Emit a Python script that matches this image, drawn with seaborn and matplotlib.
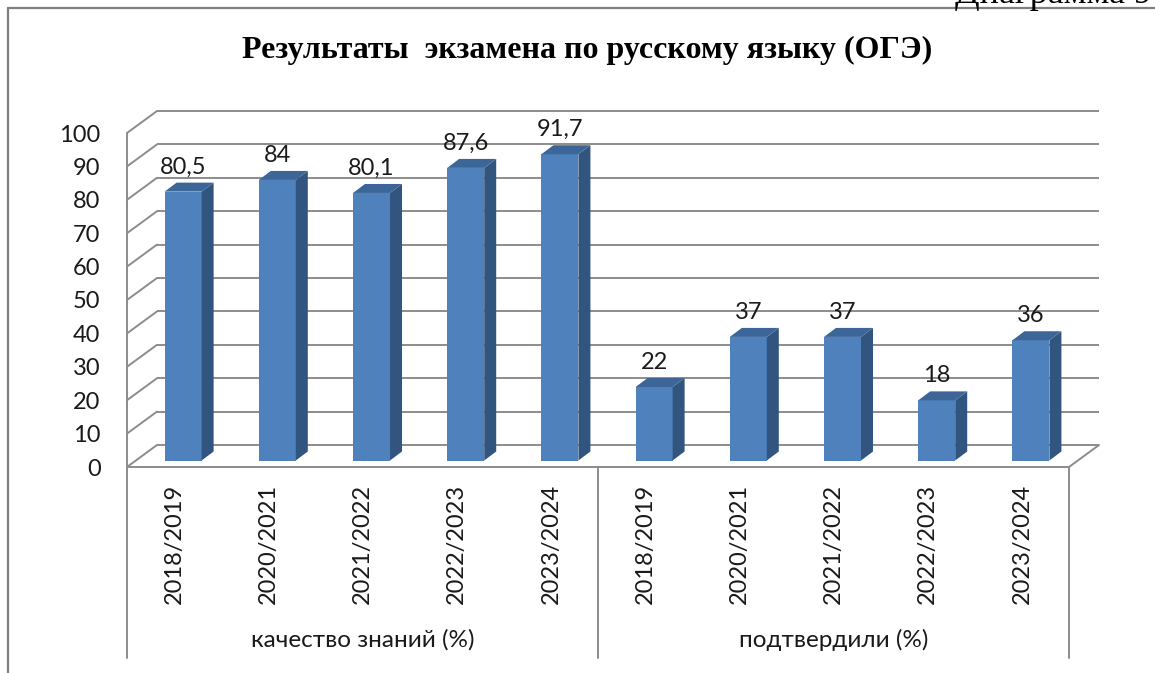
import matplotlib
matplotlib.use("Agg")
import matplotlib.pyplot as plt
import matplotlib.transforms as mtransforms
from matplotlib.patches import Polygon
from matplotlib.lines import Line2D
import seaborn as sns
import pandas as pd

# ---- data ----
years = ["2018/2019", "2020/2021", "2021/2022", "2022/2023", "2023/2024"]
groups = ["качество знаний (%)", "подтвердили (%)"]
quality = [80.5, 84, 80.1, 87.6, 91.7]
confirmed = [22, 37, 37, 18, 36]
value_labels = ["80,5", "84", "80,1", "87,6", "91,7", "22", "37", "37", "18", "36"]
yticks = [0, 10, 20, 30, 40, 50, 60, 70, 80, 90, 100]
title = "Результаты  экзамена по русскому языку (ОГЭ)"
caption = "Диаграмма 9"

keys = [f"{g}|{y}" for g in groups for y in years]
df = pd.DataFrame({"key": keys, "value": quality + confirmed,
                   "year": years * 2})

sns.set_theme(style="white")
plt.rcParams["font.family"] = ["Lato", "DejaVu Sans"]

W, H = 1155, 673
fig = plt.figure(figsize=(W / 100, H / 100), dpi=100)
# front plane: x 127..1069 px, y0 at row 467, y100 at row 133
ax = fig.add_axes([127 / W, (H - 467) / H, (1069 - 127) / W, (467 - 133) / H])
ax.set_facecolor("none")

FRONT = "#4F81BD"
TOP = "#3D6698"
SIDE = "#32557F"
GRID = "#8C8C8C"
TXT = "#1a1a1a"

sns.barplot(data=df, x="key", y="value", color=FRONT, width=0.393,
            saturation=1, ax=ax, zorder=3, linewidth=0, edgecolor="none")
ax.set_xlim(-0.5, len(keys) - 0.5)
ax.set_ylim(0, 100)
for s in ax.spines.values():
    s.set_visible(False)
ax.set_xlabel("")
ax.set_ylabel("")

# ticks
ax.set_yticks(yticks)
ax.set_yticklabels([str(v) for v in yticks], fontsize=17, color=TXT)
ax.tick_params(axis="y", length=0, pad=19)
ax.set_xticks(range(len(keys)))
ax.set_xticklabels(df["year"], rotation=90, fontsize=17, color=TXT)
ax.tick_params(axis="x", length=0, pad=12)
for lab in ax.get_xticklabels():
    lab.set_verticalalignment("top")

# 3-D geometry in pixels
DEPTH = (30, 22)        # back wall offset
BAROFF = (9, 6.5)       # bar front face offset from front plane
BARD = (12, 9)          # bar depth
bar_tr = ax.transData + mtransforms.Affine2D().translate(*BAROFF)
ident = mtransforms.IdentityTransform()

def disp(x, y):
    return ax.transData.transform((x, y))

# back wall gridlines + left wall diagonals
back_tr = ax.transData + mtransforms.Affine2D().translate(*DEPTH)
x0, x1 = ax.get_xlim()
for v in yticks:
    ax.plot([x0, x1], [v, v], color=GRID, lw=1.4, transform=back_tr,
            zorder=1, clip_on=False, solid_capstyle="butt")
    p = disp(x0, v)
    fig.add_artist(Line2D([p[0], p[0] + DEPTH[0]], [p[1], p[1] + DEPTH[1]],
                          color=GRID, lw=1.4, transform=ident, zorder=1))
# left front vertical, floor front edge, floor right diagonal
pa, pb = disp(x0, 0), disp(x0, 100)
fig.add_artist(Line2D([pa[0], pb[0]], [pa[1], pb[1]], color=GRID, lw=1.4,
                      transform=ident, zorder=1))
pc = disp(x1, 0)
fig.add_artist(Line2D([pa[0], pc[0]], [pa[1], pc[1]], color=GRID, lw=1.4,
                      transform=ident, zorder=1))
fig.add_artist(Line2D([pc[0], pc[0] + DEPTH[0]], [pc[1], pc[1] + DEPTH[1]],
                      color=GRID, lw=1.4, transform=ident, zorder=1))
# category separators below the floor
for xs in [x0, x0 + len(years), x1]:
    p = disp(xs, 0)
    fig.add_artist(Line2D([p[0], p[0]], [p[1], H - 658], color=GRID, lw=1.4,
                          transform=ident, zorder=1))

# bars: shift front faces, add side and top faces, labels
for patch, lab in zip(ax.patches, value_labels):
    patch.set_transform(bar_tr)
    patch.set_clip_on(False)
    bx, bw, bh = patch.get_x(), patch.get_width(), patch.get_height()
    bl = bar_tr.transform((bx, 0))
    br = bar_tr.transform((bx + bw, 0))
    tl = bar_tr.transform((bx, bh))
    tr = bar_tr.transform((bx + bw, bh))
    dx, dy = BARD
    side = Polygon([br, (br[0] + dx, br[1] + dy), (tr[0] + dx, tr[1] + dy), tr],
                   closed=True, facecolor=SIDE, edgecolor="none",
                   transform=ident, zorder=3)
    top = Polygon([tl, tr, (tr[0] + dx, tr[1] + dy), (tl[0] + dx, tl[1] + dy)],
                  closed=True, facecolor=TOP, edgecolor="none",
                  transform=ident, zorder=3)
    fig.add_artist(side)
    fig.add_artist(top)
    cx = (tl[0] + tr[0]) / 2
    fig.text(cx / W, (tl[1] + 18) / H, lab, ha="center", va="baseline",
             fontsize=17, color=TXT, zorder=4)

# group labels
for gi, g in enumerate(groups):
    cxg = disp(gi * len(years) + (len(years) - 1) / 2, 0)[0]
    fig.text(cxg / W, (H - 640) / H, g, ha="center", va="center",
             fontsize=17.5, color=TXT)

# title
fig.text(587 / W, (H - 50) / H, title, ha="center", va="center",
         fontsize=23, fontweight="bold", family="Liberation Serif", color="black")

# frame of chart area (top and left edges) and cut-off caption
fig.add_artist(Line2D([8, W], [H - 8, H - 8], color="#7F7F7F", lw=1.6,
                      transform=ident))
fig.add_artist(Line2D([8, 8], [H - 8, 0], color="#7F7F7F", lw=1.6,
                      transform=ident))
fig.text(955 / W, (H - 3) / H, caption, ha="left", va="baseline",
         fontsize=26, family="Liberation Serif", color="black")

fig.savefig("out.png", dpi=100, facecolor="white")
